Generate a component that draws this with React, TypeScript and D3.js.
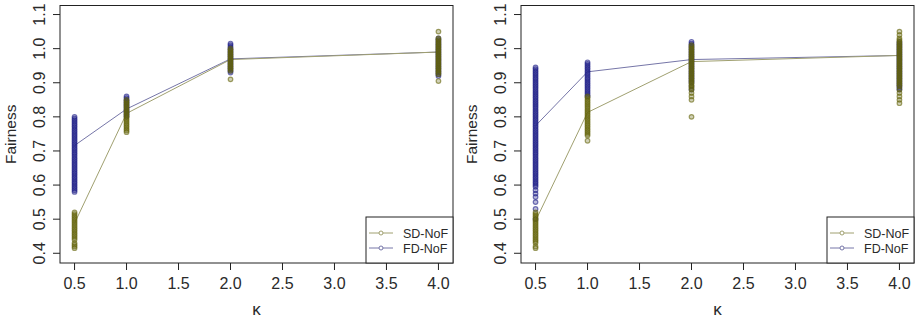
import React from 'react'
import * as d3 from 'd3'

// kappa values on the x axis
const kappas = [0.5, 1.0, 2.0, 4.0]
const xTicks = [0.5, 1.0, 1.5, 2.0, 2.5, 3.0, 3.5, 4.0]
const yTicks = [0.4, 0.5, 0.6, 0.7, 0.8, 0.9, 1.0, 1.1]
const seriesNames = ['SD-NoF', 'FD-NoF']

// left panel: individual runs per kappa
const sdA05 = [0.415, 0.42, 0.425, 0.43, 0.44, 0.445, 0.45, 0.455, 0.46, 0.465, 0.47, 0.475, 0.48, 0.485, 0.49, 0.495, 0.5, 0.505, 0.51, 0.515, 0.52]
const sdA1 = [0.755, 0.76, 0.765, 0.77, 0.775, 0.78, 0.785, 0.79, 0.795, 0.8, 0.805, 0.81, 0.815, 0.82, 0.825, 0.83, 0.835, 0.84, 0.845, 0.85]
const sdA2 = [0.91, 0.935, 0.94, 0.945, 0.95, 0.955, 0.96, 0.965, 0.97, 0.975, 0.98, 0.985, 0.99, 0.995, 1.0]
const sdA4 = [0.905, 0.925, 0.93, 0.935, 0.94, 0.945, 0.95, 0.955, 0.96, 0.965, 0.97, 0.975, 0.98, 0.985, 0.99, 0.995, 1.0, 1.005, 1.01, 1.015, 1.02, 1.025, 1.03, 1.05]
const fdA05 = [0.58, 0.585, 0.59, 0.595, 0.6, 0.605, 0.61, 0.615, 0.62, 0.625, 0.63, 0.635, 0.64, 0.645, 0.65, 0.655, 0.66, 0.665, 0.67, 0.675, 0.68, 0.685, 0.69, 0.695, 0.7, 0.705, 0.71, 0.715, 0.72, 0.725, 0.73, 0.735, 0.74, 0.745, 0.75, 0.755, 0.76, 0.765, 0.77, 0.775, 0.78, 0.785, 0.79, 0.795, 0.8]
const fdA1 = [0.8, 0.805, 0.81, 0.815, 0.82, 0.825, 0.83, 0.835, 0.84, 0.845, 0.85, 0.855, 0.86]
const fdA2 = [0.93, 0.935, 0.94, 0.945, 0.95, 0.955, 0.96, 0.965, 0.97, 0.975, 0.98, 0.985, 0.99, 0.995, 1.0, 1.005, 1.01, 1.015]
const fdA4 = [0.92, 0.925, 0.93, 0.935, 0.94, 0.945, 0.95, 0.955, 0.96, 0.965, 0.97, 0.975, 0.98, 0.985, 0.99, 0.995, 1.0, 1.005, 1.01, 1.015, 1.02, 1.025, 1.03]
const sdAMean = [0.488, 0.81, 0.968, 0.99]
const fdAMean = [0.716, 0.823, 0.97, 0.99]

// right panel
const sdB05 = [0.415, 0.42, 0.43, 0.435, 0.44, 0.445, 0.45, 0.455, 0.46, 0.465, 0.47, 0.475, 0.48, 0.485, 0.49, 0.495, 0.5, 0.505, 0.51, 0.515, 0.52]
const sdB1 = [0.73, 0.745, 0.75, 0.755, 0.76, 0.765, 0.77, 0.775, 0.78, 0.785, 0.79, 0.795, 0.8, 0.805, 0.81, 0.815, 0.82, 0.825, 0.83, 0.835, 0.84, 0.845, 0.85, 0.855, 0.86]
const sdB2 = [0.8, 0.85, 0.86, 0.87, 0.88, 0.885, 0.89, 0.895, 0.9, 0.905, 0.91, 0.915, 0.92, 0.925, 0.93, 0.935, 0.94, 0.945, 0.95, 0.955, 0.96, 0.965, 0.97, 0.975, 0.98, 0.985, 0.99, 0.995, 1.0, 1.005, 1.01]
const sdB4 = [0.84, 0.85, 0.86, 0.87, 0.88, 0.89, 0.895, 0.9, 0.905, 0.91, 0.915, 0.92, 0.925, 0.93, 0.935, 0.94, 0.945, 0.95, 0.955, 0.96, 0.965, 0.97, 0.975, 0.98, 0.985, 0.99, 0.995, 1.0, 1.005, 1.01, 1.015, 1.02, 1.025, 1.03, 1.04, 1.05]
const fdB05 = [0.5, 0.53, 0.55, 0.565, 0.575, 0.585, 0.595, 0.6, 0.605, 0.61, 0.615, 0.62, 0.625, 0.63, 0.635, 0.64, 0.645, 0.65, 0.655, 0.66, 0.665, 0.67, 0.675, 0.68, 0.685, 0.69, 0.695, 0.7, 0.705, 0.71, 0.715, 0.72, 0.725, 0.73, 0.735, 0.74, 0.745, 0.75, 0.755, 0.76, 0.765, 0.77, 0.775, 0.78, 0.785, 0.79, 0.795, 0.8, 0.805, 0.81, 0.815, 0.82, 0.825, 0.83, 0.835, 0.84, 0.845, 0.85, 0.855, 0.86, 0.865, 0.87, 0.875, 0.88, 0.885, 0.89, 0.895, 0.9, 0.905, 0.91, 0.915, 0.92, 0.925, 0.93, 0.935, 0.94, 0.945]
const fdB1 = [0.86, 0.865, 0.87, 0.875, 0.88, 0.885, 0.89, 0.895, 0.9, 0.905, 0.91, 0.915, 0.92, 0.925, 0.93, 0.935, 0.94, 0.945, 0.95, 0.955, 0.96]
const fdB2 = [0.88, 0.89, 0.9, 0.905, 0.91, 0.915, 0.92, 0.925, 0.93, 0.935, 0.94, 0.945, 0.95, 0.955, 0.96, 0.965, 0.97, 0.975, 0.98, 0.985, 0.99, 0.995, 1.0, 1.005, 1.01, 1.015, 1.02]
const fdB4 = [0.88, 0.885, 0.89, 0.895, 0.9, 0.905, 0.91, 0.915, 0.92, 0.925, 0.93, 0.935, 0.94, 0.945, 0.95, 0.955, 0.96, 0.965, 0.97, 0.975, 0.98, 0.985, 0.99, 0.995, 1.0, 1.005, 1.01, 1.015, 1.02]
const sdBMean = [0.495, 0.813, 0.962, 0.98]
const fdBMean = [0.774, 0.932, 0.968, 0.98]

const panels = [
  { sd: [sdA05, sdA1, sdA2, sdA4], fd: [fdA05, fdA1, fdA2, fdA4], sdMean: sdAMean, fdMean: fdAMean },
  { sd: [sdB05, sdB1, sdB2, sdB4], fd: [fdB05, fdB1, fdB2, fdB4], sdMean: sdBMean, fdMean: fdBMean },
]

const font = '"Liberation Sans", Arial, sans-serif'
const sdPoint = 'rgb(100,100,10)'
const fdPoint = 'rgb(30,30,135)'
const sdLine = '#a0a070'
const fdLine = '#7676a8'
const textCol = '#2a2a2a'

const plot = { left: 60, right: 453, top: 5.5, bottom: 263 }

const Panel = ({ p, dx }) => {
  const x = d3.scaleLinear().domain([0.36, 4.14]).range([plot.left, plot.right])
  const y = d3.scaleLinear().domain([0.3715, 1.1265]).range([plot.bottom, plot.top])
  const line = d3.line<number>().x((_, i) => x(kappas[i])).y((d) => y(d))

  // open circles, semi transparent, so dense runs build up to a solid column
  const points = (groups, color) =>
    groups.flatMap((vals, i) =>
      vals.map((v, j) => (
        <circle key={`${i}-${j}`} cx={x(kappas[i])} cy={y(v)} r={2.3}
          fill={color} fillOpacity={0.3} stroke={color} strokeOpacity={0.6} strokeWidth={1.2} />
      ))
    )

  const lgX = plot.right - 87
  const lgY = plot.bottom - 46

  return (
    <g transform={`translate(${dx},0)`} fontFamily={font}>
      <path d={line(p.fdMean)} fill="none" stroke={fdLine} strokeWidth={1} />
      <path d={line(p.sdMean)} fill="none" stroke={sdLine} strokeWidth={1} />
      <g>{points(p.fd, fdPoint)}</g>
      <g>{points(p.sd, sdPoint)}</g>

      {/* frame */}
      <rect x={plot.left} y={plot.top} width={plot.right - plot.left} height={plot.bottom - plot.top} fill="none" stroke="#222" strokeWidth={1} />

      {/* x axis */}
      {xTicks.map((t) => (
        <g key={t}>
          <line x1={x(t)} x2={x(t)} y1={plot.bottom} y2={plot.bottom + 7} stroke="#222" />
          <text x={x(t)} y={288.5} textAnchor="middle" fontSize={16} fill={textCol}>{t.toFixed(1)}</text>
        </g>
      ))}
      <text x={(plot.left + plot.right) / 2} y={315} textAnchor="middle" fontSize={17} fill={textCol}>κ</text>

      {/* y axis */}
      {yTicks.map((t) => (
        <g key={t}>
          <line x1={plot.left - 7} x2={plot.left} y1={y(t)} y2={y(t)} stroke="#222" />
          <text transform={`translate(45,${y(t)}) rotate(-90)`} textAnchor="middle" fontSize={16} fill={textCol}>{t.toFixed(1)}</text>
        </g>
      ))}
      <text transform={`translate(16,${(plot.top + plot.bottom) / 2}) rotate(-90)`} textAnchor="middle" fontSize={15.5} fill={textCol}>Fairness</text>

      {/* legend */}
      <rect x={lgX} y={lgY} width={87} height={46} fill="#fff" stroke="#222" strokeWidth={1} />
      {seriesNames.map((name, i) => {
        const c = i === 0 ? sdLine : fdLine
        const ry = lgY + 16 + i * 15
        return (
          <g key={name}>
            <line x1={lgX + 3} x2={lgX + 27} y1={ry} y2={ry} stroke={c} />
            <circle cx={lgX + 15} cy={ry} r={2} fill="#fff" stroke={c} />
            <text x={lgX + 37} y={ry + 4.5} fontSize={12.5} fill={textCol}>{name}</text>
          </g>
        )
      })}
    </g>
  )
}

export default function App() {
  return (
    <svg width={916} height={321} style={{ display: 'block', position: 'absolute', left: 0, top: 0, background: '#fff' }}>
      {panels.map((p, i) => (
        <Panel key={i} p={p} dx={i * 461} />
      ))}
    </svg>
  )
}
